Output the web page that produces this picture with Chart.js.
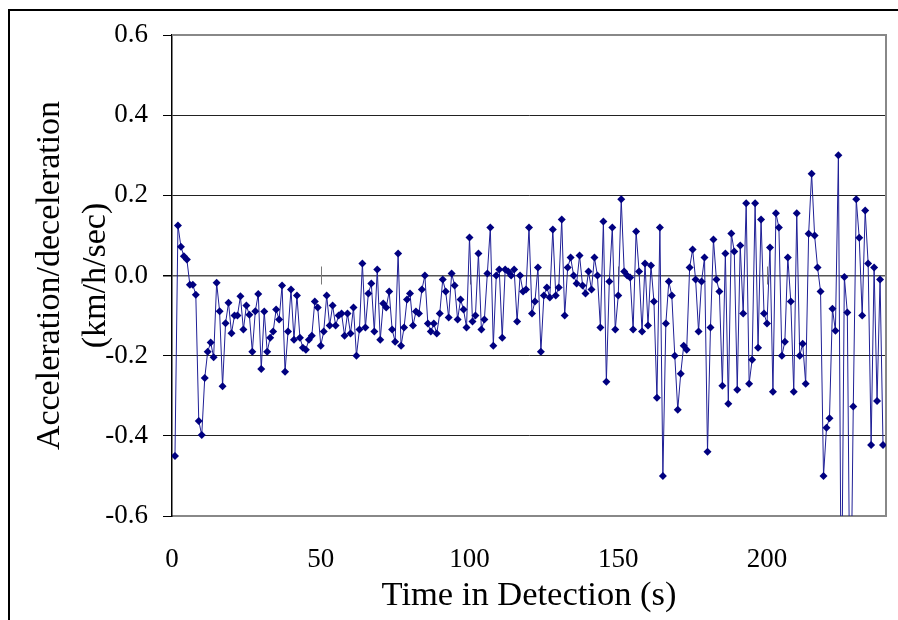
<!DOCTYPE html>
<html>
<head>
<meta charset="utf-8">
<title>Acceleration/deceleration</title>
<script src="https://cdn.jsdelivr.net/npm/chart.js@4.4.1/dist/chart.umd.min.js"></script>
<style>
    html, body { margin: 0; padding: 0; background: #fff; overflow: hidden; }
    #wrap { position: relative; width: 898px; height: 620px; }
    #frame { position: absolute; left: 8px; top: 9px; width: 1000px; height: 1000px; border: 2px solid #000; box-sizing: border-box; pointer-events: none; }
    canvas { position: absolute; left: 0; top: 0; }
</style>
</head>
<body>
<div id="wrap">
    <canvas id="accelChart" width="898" height="620"></canvas>
    <div id="frame"></div>
</div>
<script>
// time stamps (s)
const timeSec = [
    1, 2, 3, 4, 5, 6, 7, 8, 9, 10, 11, 12, 13, 14, 15, 16, 17, 18, 19, 20,
    21, 22, 23, 24, 25, 26, 27, 28, 29, 30, 31, 32, 33, 34, 35, 36, 37, 38, 39, 40,
    41, 42, 43, 44, 45, 46, 47, 48, 49, 50, 51, 52, 53, 54, 55, 56, 57, 58, 59, 60,
    61, 62, 63, 64, 65, 66, 67, 68, 69, 70, 71, 72, 73, 74, 75, 76, 77, 78, 79, 80,
    81, 82, 83, 84, 85, 86, 87, 88, 89, 90, 91, 92, 93, 94, 95, 96, 97, 98, 99, 100,
    101, 102, 103, 104, 105, 106, 107, 108, 109, 110, 111, 112, 113, 114, 115, 116, 117, 118, 119, 120,
    121, 122, 123, 124, 125, 126, 127, 128, 129, 130, 131, 132, 133, 134, 135, 136, 137, 138, 139, 140,
    141, 142, 143, 144, 145, 146, 147, 148, 149, 150, 151, 152, 153, 154, 155, 156, 157, 158, 159, 160,
    161, 162, 163, 164, 165, 166, 167, 168, 169, 170, 171, 172, 173, 174, 175, 176, 177, 178, 179, 180,
    181, 182, 183, 184, 185, 186, 187, 188, 189, 190, 191, 192, 193, 194, 195, 196, 197, 198, 199, 200,
    201, 202, 203, 204, 205, 206, 207, 208, 209, 210, 211, 212, 213, 214, 215, 216, 217, 218, 219, 220,
    221, 222, 223, 224, 225, 226, 227, 228, 229, 230, 231, 232, 233, 234, 235, 236, 237, 238, 239
];

// acceleration/deceleration (km/h/sec)
const accel = [
    -0.45, 0.125, 0.072, 0.048, 0.04, -0.023, -0.023, -0.048, -0.363, -0.398,
    -0.256, -0.19, -0.167, -0.204, -0.018, -0.089, -0.276, -0.119, -0.068, -0.144,
    -0.10, -0.10, -0.052, -0.135, -0.075, -0.098, -0.19, -0.089, -0.046, -0.233,
    -0.09, -0.19, -0.155, -0.14, -0.085, -0.11, -0.025, -0.24, -0.14, -0.035,
    -0.16, -0.05, -0.155, -0.18, -0.185, -0.16, -0.15, -0.065, -0.08, -0.175,
    -0.14, -0.05, -0.125, -0.075, -0.125, -0.10, -0.095, -0.15, -0.095, -0.145,
    -0.08, -0.20, -0.135, 0.03, -0.13, -0.045, -0.02, -0.14, 0.015, -0.16,
    -0.07, -0.08, -0.04, -0.135, -0.165, 0.055, -0.175, -0.13, -0.06, -0.045,
    -0.125, -0.09, -0.095, -0.035, 0.0, -0.12, -0.14, -0.12, -0.145, -0.095,
    -0.01, -0.04, -0.105, 0.005, -0.025, -0.11, -0.06, -0.085, -0.13, 0.095,
    -0.115, -0.10, 0.055, -0.135, -0.11, 0.005, 0.12, -0.175, 0.0, 0.015,
    -0.155, 0.015, 0.01, 0.0, 0.015, -0.115, 0.0, -0.04, -0.035, 0.12,
    -0.095, -0.065, 0.02, -0.19, -0.05, -0.03, -0.055, 0.115, -0.05, -0.03,
    0.14, -0.10, 0.02, 0.045, 0.0, -0.02, 0.05, -0.025, -0.045, 0.01,
    -0.035, 0.045, 0.0, -0.13, 0.135, -0.265, -0.015, 0.12, -0.135, -0.05,
    0.19, 0.01, 0.0, -0.005, -0.135, 0.11, 0.01, -0.14, 0.03, -0.125,
    0.025, -0.065, -0.305, 0.12, -0.50, -0.12, -0.015, -0.05, -0.20, -0.335,
    -0.245, -0.175, -0.185, 0.02, 0.065, -0.01, -0.14, -0.015, 0.045, -0.44,
    -0.13, 0.09, -0.01, -0.04, -0.275, 0.055, -0.32, 0.105, 0.06, -0.285,
    0.075, -0.095, 0.18, -0.27, -0.21, 0.18, -0.18, 0.14, -0.095, -0.12,
    0.07, -0.29, 0.155, 0.12, -0.20, -0.165, 0.045, -0.065, -0.29, 0.155,
    -0.20, -0.17, -0.27, 0.104, 0.254, 0.10, 0.02, -0.04, -0.50, -0.38,
    -0.356, -0.083, -0.138, 0.30, -0.90, -0.004, -0.092, -0.95, -0.327, 0.19,
    0.094, -0.10, 0.162, 0.03, -0.423, 0.02, -0.313, -0.01, -0.423
];

const xTicks = [0, 50, 100, 150, 200];
const yTicks = [-0.6, -0.4, -0.2, 0.0, 0.2, 0.4, 0.6];

const xTitle = 'Time in Detection (s)';
const yTitle = ['Acceleration/deceleration', '(km/h/sec)'];

const serif = "'Liberation Serif', 'Times New Roman', serif";

// plot border (top / right) and the small tick marks where x axis crosses zero
const plotFrame = {
    id: 'plotFrame',
    beforeDatasetsDraw(chart) {
        const { ctx, chartArea: a, scales } = chart;
        const y0 = scales.y.getPixelForValue(0);
        ctx.save();
        ctx.strokeStyle = '#777';
        ctx.lineWidth = 1;
        xTicks.forEach(v => {
            if (v === 0) return;
            const px = Math.round(scales.x.getPixelForValue(v)) + 0.5;
            ctx.beginPath();
            ctx.moveTo(px, y0 - 9);
            ctx.lineTo(px, y0 + 9);
            ctx.stroke();
        });
        ctx.strokeStyle = '#888';
        ctx.lineWidth = 2;
        ctx.beginPath();
        ctx.moveTo(a.left, a.top);
        ctx.lineTo(a.right, a.top);
        ctx.lineTo(a.right, a.bottom);
        ctx.stroke();
        ctx.restore();
    }
};

const ctx = document.getElementById('accelChart').getContext('2d');
new Chart(ctx, {
    type: 'line',
    data: {
        datasets: [{
            label: 'Acceleration',
            data: timeSec.map((t, i) => ({ x: t, y: accel[i] })),
            borderColor: '#1f1f96',
            borderWidth: 1,
            backgroundColor: '#000080',
            pointStyle: 'rectRot',
            pointRadius: 4,
            pointBorderWidth: 0,
            pointBackgroundColor: '#000080',
            tension: 0,
            fill: false
        }]
    },
    options: {
        responsive: false,
        animation: false,
        layout: { padding: { left: 0, top: 35, right: 12, bottom: 0 } },
        plugins: {
            legend: { display: false },
            tooltip: { enabled: false }
        },
        scales: {
            x: {
                type: 'linear',
                min: 0,
                max: 240,
                afterBuildTicks: (scale) => {
                    scale.ticks = xTicks.map(v => ({ value: v }));
                },
                afterFit: (scale) => { scale.height = 104; },
                grid: { display: false, drawTicks: false },
                border: { display: true, color: '#888', width: 2 },
                ticks: {
                    padding: 28,
                    maxRotation: 0,
                    color: '#000',
                    font: { family: serif, size: 27 }
                },
                title: {
                    display: true,
                    text: xTitle,
                    color: '#000',
                    font: { family: serif, size: 34.5, lineHeight: 1.2 },
                    padding: { top: 0, bottom: 3 }
                }
            },
            y: {
                min: -0.6,
                max: 0.6,
                afterBuildTicks: (scale) => {
                    scale.ticks = yTicks.map(v => ({ value: v }));
                },
                afterFit: (scale) => { scale.width = 172; },
                grid: {
                    color: (c) => {
                        const v = c.tick ? c.tick.value : 0;
                        if (Math.abs(Math.abs(v) - 0.6) < 1e-6) return '#888';
                        if (Math.abs(v) < 1e-6) return '#555';
                        return '#222';
                    },
                    lineWidth: (c) => (c.tick && Math.abs(c.tick.value) < 1e-6 ? 1.5 : 1),
                    tickLength: 9,
                    tickColor: '#000'
                },
                border: { display: true, color: '#000', width: 1.5 },
                ticks: {
                    padding: 15,
                    color: '#000',
                    font: { family: serif, size: 27 },
                    callback: (v) => v.toFixed(1)
                },
                title: {
                    display: true,
                    text: yTitle,
                    color: '#000',
                    font: { family: serif, size: 34, lineHeight: 1.35 },
                    padding: { top: 27, bottom: 0 }
                }
            }
        }
    },
    plugins: [plotFrame]
});
</script>
</body>
</html>
